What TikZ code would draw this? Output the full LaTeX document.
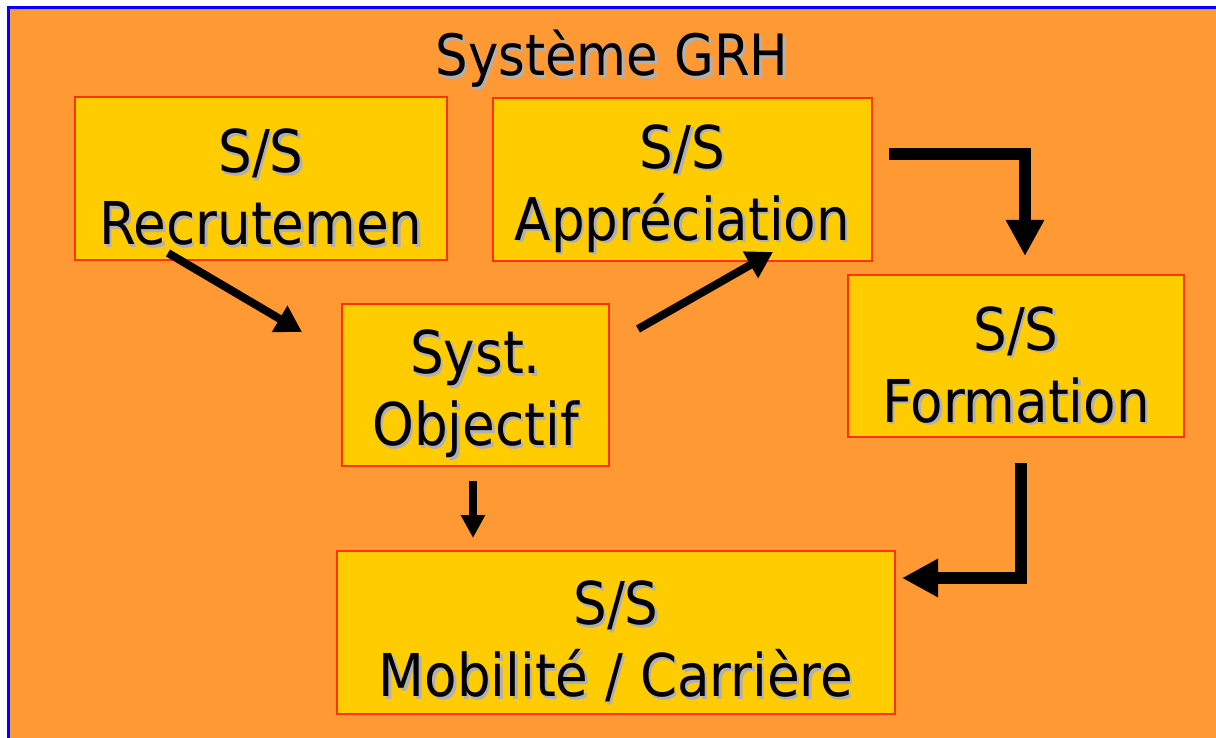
\documentclass[tikz,border=0pt]{standalone}
\usepackage{fontspec}
\setmainfont{DejaVu Sans Condensed}
\usetikzlibrary{arrows.meta}
\definecolor{bgorange}{HTML}{FF9933}
\definecolor{boxfill}{HTML}{FFCC00}
\definecolor{boxline}{HTML}{FF3300}
\definecolor{framblue}{HTML}{0000FF}
\definecolor{shadowgray}{HTML}{B0B0B0}
\newcommand\shl[1]{\makebox[0pt][l]{\kern2.5pt\raisebox{-2.5pt}{\color{shadowgray}#1}}#1}
\newcommand\topstrut{\rule{0pt}{64pt}}
\tikzset{
  boxnode/.style={draw=boxline, line width=1.5pt, fill=boxfill, align=center,
    inner sep=0pt, font=\fontsize{59}{72}\selectfont},
  thinarrow/.style={line width=8pt, -{Triangle[length=26pt,width=29pt]}},
  elbowarrow/.style={line width=12pt, line join=miter, -{Triangle[length=36pt,width=36pt]}},
  shortarrow/.style={line width=7.5pt, -{Triangle[length=23pt,width=23pt]}},
}
\begin{document}
\begin{tikzpicture}[x=1pt,y=-1pt]
\useasboundingbox (0,0) rectangle (1216,738);
\fill[white] (0,0) rectangle (1216,738);
\fill[bgorange] (8,8) rectangle (1216,738);
\draw[framblue, line width=3pt] (8,740) -- (8,8) -- (1216,8);

\node[font=\fontsize{57}{66}\selectfont, anchor=base] (title) at (612,76) {\shl{Système GRH}};

\node[boxnode, minimum width=372pt, minimum height=163pt] (rec) at (261,178.5) {\topstrut\shl{S/S}\\\shl{Recrutemen}};
\node[boxnode, minimum width=379pt, minimum height=163pt] (app) at (682.5,179.5) {\topstrut\shl{S/S}\\\shl{Appréciation}};
\node[boxnode, minimum width=267pt, minimum height=162pt] (obj) at (475.5,385) {\topstrut\shl{Syst.}\\\shl{Objectif}};
\node[boxnode, minimum width=336pt, minimum height=162pt] (for) at (1016,356) {\topstrut\shl{S/S}\\\shl{Formation}};
\node[boxnode, minimum width=558pt, minimum height=163pt] (mob) at (616,632.5) {\topstrut\shl{S/S}\\\shl{Mobilité / Carrière}};

\coordinate (a1s) at (168,253);
\coordinate (a1e) at (302,332);
\coordinate (a2s) at (638,329);
\coordinate (a2e) at (773,252);
\coordinate (a3s) at (889,154);
\coordinate (a3c) at (1025,154);
\coordinate (a3e) at (1025,256);
\coordinate (a4s) at (1021,463);
\coordinate (a4c) at (1021,578);
\coordinate (a4e) at (902,578);
\coordinate (a5s) at (473,481);
\coordinate (a5e) at (473,538);

\draw[thinarrow] (a1s) -- (a1e);
\draw[thinarrow] (a2s) -- (a2e);
\draw[elbowarrow] (a3s) -- (a3c) -- (a3e);
\draw[elbowarrow] (a4s) -- (a4c) -- (a4e);
\draw[shortarrow] (a5s) -- (a5e);
\end{tikzpicture}
\end{document}
